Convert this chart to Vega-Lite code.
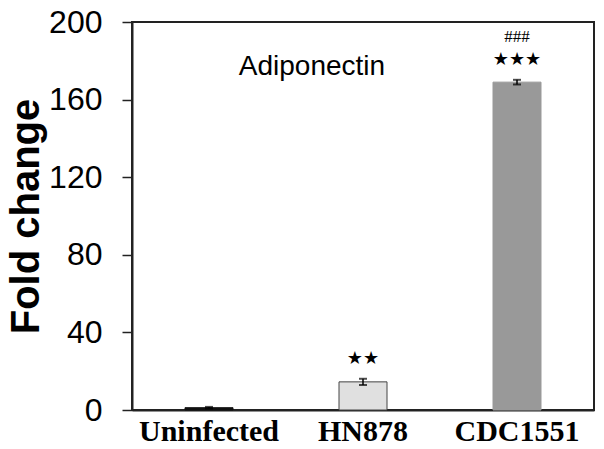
{
  "$schema": "https://vega.github.io/schema/vega-lite/v6.json",
  "width": 462,
  "height": 388,
  "autosize": "none",
  "padding": {"left": 132, "top": 22, "right": 10, "bottom": 39},
  "background": "white",
  "config": {"view": {"stroke": "#222", "strokeWidth": 2}},
  "data": {"values": [
    {"group": "Uninfected", "value": 1.2, "err": 0.4, "stars": "", "hash": "", "color": "#111111", "stroke": "#111111"},
    {"group": "HN878", "value": 14.5, "err": 1.6, "stars": "★★", "hash": "", "color": "#e0e0e0", "stroke": "#444444"},
    {"group": "CDC1551", "value": 169, "err": 1.2, "stars": "★★★", "hash": "###", "color": "#999999", "stroke": "#999999"}
  ]},
  "encoding": {
    "x": {"field": "group", "type": "nominal", "sort": null,
      "scale": {"paddingInner": 0, "paddingOuter": 0},
      "axis": {"title": null, "labelAngle": 0, "ticks": false, "labelFont": "Liberation Serif", "labelFontWeight": "bold", "labelFontSize": 30, "labelColor": "#000", "labelPadding": 6, "domainColor": "#222", "domainWidth": 2}}
  },
  "layer": [
    {
      "mark": {"type": "bar", "size": 48, "strokeWidth": 1},
      "encoding": {
        "y": {"field": "value", "type": "quantitative",
          "scale": {"domain": [0, 200], "nice": false},
          "axis": {"values": [0, 40, 80, 120, 160, 200], "grid": false, "title": "Fold change", "titleFont": "Liberation Sans", "titleFontSize": 40, "titleFontWeight": "bold", "titleColor": "#000", "titlePadding": 2, "labelFont": "Liberation Sans", "labelFontSize": 32, "labelColor": "#000", "tickSize": 10, "tickColor": "#222", "tickWidth": 1.5, "labelPadding": 20, "domainColor": "#222", "domainWidth": 2}},
        "color": {"field": "color", "type": "nominal", "scale": null, "legend": null},
        "stroke": {"field": "stroke", "type": "nominal", "scale": null, "legend": null}
      }
    },
    {
      "mark": {"type": "rule", "color": "#000", "strokeWidth": 1.5},
      "encoding": {
        "y": {"field": "lo", "type": "quantitative"},
        "y2": {"field": "hi"}
      },
      "transform": [{"calculate": "datum.value - datum.err", "as": "lo"}, {"calculate": "datum.value + datum.err", "as": "hi"}]
    },
    {
      "mark": {"type": "tick", "color": "#000", "size": 8, "thickness": 2},
      "encoding": {"y": {"field": "hi", "type": "quantitative"}},
      "transform": [{"calculate": "datum.value + datum.err", "as": "hi"}]
    },
    {
      "mark": {"type": "tick", "color": "#000", "size": 8, "thickness": 2},
      "encoding": {"y": {"field": "lo", "type": "quantitative"}},
      "transform": [{"calculate": "datum.value - datum.err", "as": "lo"}]
    },
    {
      "mark": {"type": "text", "font": "DejaVu Sans", "fontSize": 18, "dy": -20, "color": "#000"},
      "encoding": {"y": {"field": "hi", "type": "quantitative"}, "text": {"field": "stars"}},
      "transform": [{"calculate": "datum.value + datum.err", "as": "hi"}]
    },
    {
      "mark": {"type": "text", "font": "Liberation Serif", "fontSize": 17, "dy": -43, "color": "#000"},
      "encoding": {"y": {"field": "hi", "type": "quantitative"}, "text": {"field": "hash"}},
      "transform": [{"calculate": "datum.value + datum.err", "as": "hi"}]
    },
    {
      "data": {"values": [{"t": "Adiponectin"}]},
      "mark": {"type": "text", "font": "Liberation Sans", "fontSize": 28, "color": "#000", "x": 180, "y": 45},
      "encoding": {"text": {"field": "t"}, "x": null}
    }
  ]
}
